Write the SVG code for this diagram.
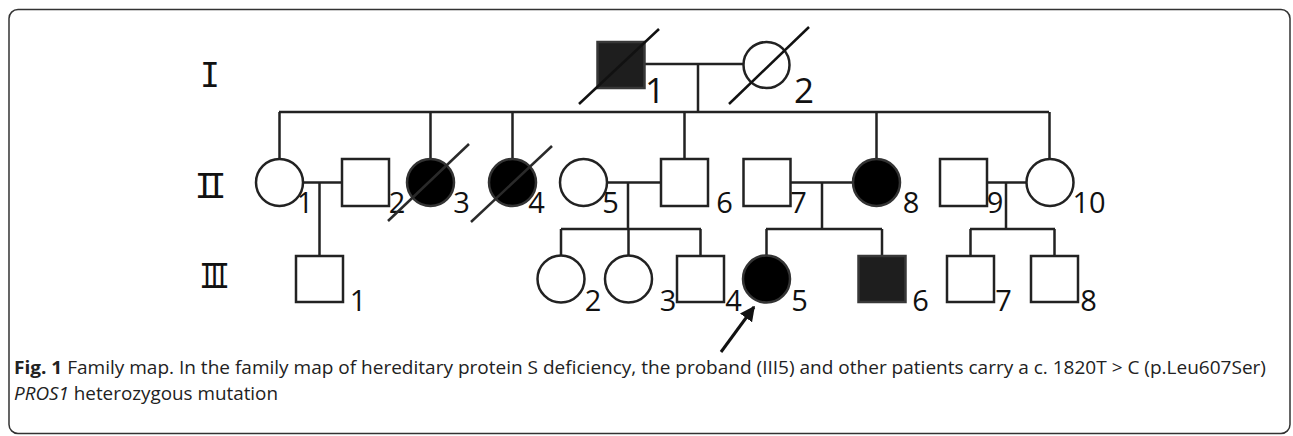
<svg xmlns="http://www.w3.org/2000/svg" width="1293" height="436" viewBox="0 0 1293 436">
<style>
.ln{stroke:#222;stroke-width:2.5;fill:none}
.sl{stroke:#111;stroke-width:2.5;fill:none}
.e{fill:#fff;stroke:#222;stroke-width:2.5}
.f{fill:#000;stroke:#333;stroke-width:2.5}
.fs{fill:#1e1e1e;stroke:#383838;stroke-width:2.5}
.lb{font-family:"Open Sans","Noto Sans",sans-serif;fill:#111;text-anchor:middle}
.l1{font-size:35px}
.l2{font-size:29px}
.gen{font-family:"DejaVu Sans Mono",monospace;font-size:33px;fill:#111}
.cap{font-family:"Open Sans","Noto Sans",sans-serif;font-size:18px;fill:#222}
</style>
<defs>
<marker id="ah" viewBox="0 0 10 10" refX="9" refY="5" markerWidth="5" markerHeight="5" orient="auto" markerUnits="strokeWidth">
<path d="M0,0 L10,5 L0,10 z" fill="#111"/>
</marker>
</defs>
<rect x="9" y="9.5" width="1281" height="424" rx="9" fill="#fff" stroke="#333" stroke-width="1.5"/>
<g id="generations">
<text class="gen" x="210" y="87" text-anchor="middle">I</text>
<text class="gen" x="194.7" y="198" letter-spacing="-8">II</text>
<text class="gen" transform="translate(202,288) scale(0.76,1)" x="-3.3" y="0" letter-spacing="-10">III</text>
</g>
<g id="connectors">
<path class="ln" d="M644,64 H744 M698,64 V112 M279,112 H1049 M279.5,112 V159 M430.5,112 V159 M512.5,112 V159 M684.5,112 V159 M876.5,112 V159 M1049.5,112 V159"/>
<path class="ln" d="M303,182.5 H342 M319.5,182.5 V256"/>
<path class="ln" d="M607,182.5 H661 M628,182.5 V229 M561,229 H701 M561,229 V256 M628.5,229 V256 M700.5,229 V256"/>
<path class="ln" d="M790.5,182.5 H853 M822,182.5 V229 M766,229 H882 M766.5,229 V256 M882,229 V256"/>
<path class="ln" d="M987,182.5 H1027 M1006,182.5 V229 M970,229 H1055 M970.5,229 V256 M1054.5,229 V256"/>
<line x1="721" y1="352" x2="754" y2="307" stroke="#111" stroke-width="3" marker-end="url(#ah)"/>
</g>
<g id="I-1"><rect class="fs" x="597.5" y="42" width="47" height="46"/><line class="sl" x1="579" y1="104" x2="659" y2="29"/><text class="lb l1" x="655" y="103">1</text></g>
<g id="I-2"><circle class="e" cx="766.5" cy="65" r="23"/><line class="sl" x1="729" y1="104" x2="809" y2="27"/><text class="lb l1" x="804" y="103">2</text></g>
<g id="II-1"><circle class="e" cx="279.5" cy="182.5" r="23.5"/><text class="lb l2" x="305" y="213">1</text></g>
<g id="II-2"><rect class="e" x="342" y="159" width="47" height="47"/><text class="lb l2" x="397" y="213">2</text></g>
<g id="II-3"><circle class="f" cx="430.5" cy="182.5" r="23.5"/><line x1="388" y1="221" x2="469" y2="144" stroke="#2a2a2a" stroke-width="2.5"/><text class="lb l2" x="461.5" y="213">3</text></g>
<g id="II-4"><circle class="f" cx="512.5" cy="182.5" r="23.5"/><line x1="471" y1="222" x2="552" y2="146" stroke="#2a2a2a" stroke-width="2.5"/><text class="lb l2" x="536.5" y="213">4</text></g>
<g id="II-5"><circle class="e" cx="583.5" cy="182.5" r="23.5"/><text class="lb l2" x="610.5" y="213">5</text></g>
<g id="II-6"><rect class="e" x="661" y="159" width="47" height="47"/><text class="lb l2" x="724.5" y="213">6</text></g>
<g id="II-7"><rect class="e" x="743.5" y="159" width="47" height="47"/><text class="lb l2" x="798.5" y="213">7</text></g>
<g id="II-8"><circle class="f" cx="876.5" cy="182.5" r="23.5"/><text class="lb l2" x="911" y="213">8</text></g>
<g id="II-9"><rect class="e" x="940" y="159" width="47" height="47"/><text class="lb l2" x="995" y="213">9</text></g>
<g id="II-10"><circle class="e" cx="1050" cy="182.5" r="23.5"/><text class="lb l2" x="1089" y="213">10</text></g>
<g id="III-1"><rect class="e" x="296" y="256" width="47" height="46"/><text class="lb l2" x="358" y="311">1</text></g>
<g id="III-2"><circle class="e" cx="561" cy="279" r="23.5"/><text class="lb l2" x="593" y="311">2</text></g>
<g id="III-3"><circle class="e" cx="628.5" cy="279" r="23.5"/><text class="lb l2" x="668" y="311">3</text></g>
<g id="III-4"><rect class="e" x="677" y="256" width="47" height="46"/><text class="lb l2" x="733.5" y="311">4</text></g>
<g id="III-5"><circle class="f" cx="766.5" cy="279" r="23.5"/><text class="lb l2" x="799.5" y="311">5</text></g>
<g id="III-6"><rect class="fs" x="858.5" y="256" width="47" height="46"/><text class="lb l2" x="920.5" y="311">6</text></g>
<g id="III-7"><rect class="e" x="947" y="256" width="47" height="46"/><text class="lb l2" x="1003.5" y="311">7</text></g>
<g id="III-8"><rect class="e" x="1031" y="256" width="47" height="46"/><text class="lb l2" x="1088.5" y="311">8</text></g>
<g id="caption">
<text class="cap" x="14" y="374" textLength="1252" lengthAdjust="spacingAndGlyphs"><tspan font-weight="bold">Fig. 1</tspan> Family map. In the family map of hereditary protein S deficiency, the proband (III5) and other patients carry a c. 1820T &gt; C (p.Leu607Ser)</text>
<text class="cap" x="14" y="400" textLength="264" lengthAdjust="spacingAndGlyphs"><tspan font-style="italic">PROS1</tspan> heterozygous mutation</text>
</g>
</svg>
